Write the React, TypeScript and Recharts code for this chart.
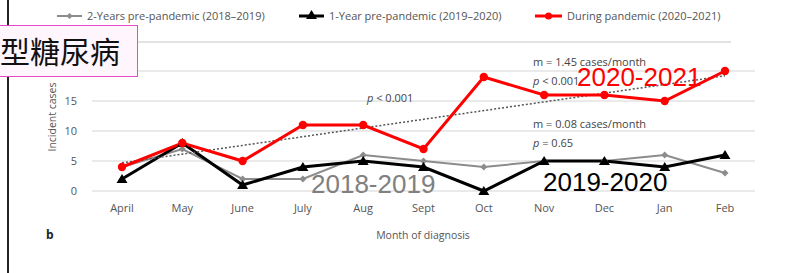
import { LineChart, Line, XAxis, YAxis, CartesianGrid } from "recharts";

const months = ["April", "May", "June", "July", "Aug", "Sept", "Oct", "Nov", "Dec", "Jan", "Feb"];
const cases1819 = [4, 7, 2, 2, 6, 5, 4, 5, 5, 6, 3];
const cases1920 = [2, 8, 1, 4, 5, 4, 0, 5, 5, 4, 6];
const cases2021 = [4, 8, 5, 11, 11, 7, 19, 16, 16, 15, 20];
// fitted trend for 2020-2021, only the two ends
const trend2021 = [4.7, null, null, null, null, null, null, null, null, null, 19.2];
const yTicks = [0, 5, 10, 15, 20];

const data = months.map((m, i) => ({
  month: m,
  a: cases1819[i],
  b: cases1920[i],
  c: cases2021[i],
  t: trend2021[i],
}));

const C = {
  red: "#ff0000",
  black: "#000000",
  gray: "#8c8c8c",
  grid: "#e3e3e3",
  text: "#555555",
  font: "'Open Sans', 'Noto Sans', sans-serif",
  big: "'Liberation Sans', Arial, sans-serif",
};

function Diamond({ cx, cy, stroke, s = 3.5 }: any) {
  if (cx == null || cy == null) return null;
  return <polygon points={`${cx},${cy - s} ${cx + s},${cy} ${cx},${cy + s} ${cx - s},${cy}`} fill={stroke} />;
}

function Triangle({ cx, cy, stroke }: any) {
  if (cx == null || cy == null) return null;
  return <polygon points={`${cx},${cy - 5} ${cx + 5.5},${cy + 4} ${cx - 5.5},${cy + 4}`} fill={stroke} />;
}

function Dot({ cx, cy, stroke }: any) {
  if (cx == null || cy == null) return null;
  return <circle cx={cx} cy={cy} r={4.2} fill={stroke} />;
}

const abs = (left: number, top: number, extra: any = {}) => ({
  position: "absolute" as const, left, top, whiteSpace: "nowrap" as const, ...extra,
});

function LegendItem({ x, color, width, marker, label }: any) {
  return (
    <div style={abs(x, 8, { display: "flex", alignItems: "center", fontFamily: C.font, fontSize: 11, color: C.text })}>
      <svg width={width} height={14}>
        <line x1={0} x2={width} y1={7} y2={7} stroke={color} strokeWidth={color === C.gray ? 2 : 3} />
        {marker === "d" && <Diamond cx={width / 2} cy={7} stroke={color} s={3} />}
        {marker === "t" && <Triangle cx={width / 2} cy={6} stroke={color} />}
        {marker === "c" && <circle cx={width / 2} cy={7} r={3.5} fill={color} />}
      </svg>
      <span style={{ marginLeft: 5 }}>{label}</span>
    </div>
  );
}

const note = (left: number, top: number) => abs(left, top, { fontFamily: C.font, fontSize: 11, color: "#444", lineHeight: "14px" });

export default function App() {
  return (
    <div style={{ position: "absolute", left: 0, top: 0, width: 785, height: 273, background: "#fff", overflow: "hidden" }}>
      <div style={{ position: "absolute", left: 7, top: 0, width: 1.5, height: 273, background: "#222" }} />
      <div style={{ position: "absolute", left: 8, top: 41, width: 723, height: 1.5, background: C.grid }} />

      <LineChart width={785} height={273} data={data} margin={{ top: 71, right: 30, left: 62, bottom: 52 }}
        style={{ position: "absolute", left: 0, top: 0 }}>
        <CartesianGrid vertical={false} stroke={C.grid} strokeWidth={1.5} />
        <XAxis dataKey="month" axisLine={false} tickLine={false} tickMargin={7} padding={{ left: 30, right: 30 }}
          tick={{ fontFamily: C.font, fontSize: 11, fill: C.text }} interval={0} />
        <YAxis width={30} domain={[0, 20]} ticks={yTicks} axisLine={false} tickLine={false} tickMargin={9}
          tick={{ fontFamily: C.font, fontSize: 11, fill: C.text }} />
        <Line dataKey="a" stroke={C.gray} strokeWidth={2} dot={<Diamond />} activeDot={false} isAnimationActive={false} />
        <Line dataKey="b" stroke={C.black} strokeWidth={3} dot={<Triangle />} activeDot={false} isAnimationActive={false} />
        <Line dataKey="t" stroke="#555" strokeWidth={1.5} strokeDasharray="2 2" dot={false} activeDot={false}
          connectNulls isAnimationActive={false} />
        <Line dataKey="c" stroke={C.red} strokeWidth={3} dot={<Dot />} activeDot={false} isAnimationActive={false} />
      </LineChart>

      <LegendItem x={57} width={25} color={C.gray} marker="d" label="2-Years pre-pandemic (2018–2019)" />
      <LegendItem x={299} width={25} color={C.black} marker="t" label="1-Year pre-pandemic (2019–2020)" />
      <LegendItem x={535} width={27} color={C.red} marker="c" label="During pandemic (2020–2021)" />

      <div style={abs(52, 117, { fontFamily: C.font, fontSize: 10.5, color: C.text, lineHeight: "14px",
        transform: "translate(-50%, -50%) rotate(-90deg)" })}>
        Incident cases
      </div>
      <div style={abs(46, 226, { fontFamily: C.font, fontSize: 12, fontWeight: 700, color: "#222" })}>b</div>
      <div style={abs(423, 228, { fontFamily: C.font, fontSize: 10.5, color: C.text, transform: "translateX(-50%)" })}>
        Month of diagnosis
      </div>

      <div style={note(367, 91)}><i>p</i> &lt; 0.001</div>
      <div style={note(533, 55)}>m = 1.45 cases/month</div>
      <div style={note(533, 74)}><i>p</i> &lt; 0.001</div>
      <div style={note(533, 117)}>m = 0.08 cases/month</div>
      <div style={note(533, 136)}><i>p</i> = 0.65</div>

      <div style={abs(577, 63, { fontFamily: C.big, fontSize: 26, lineHeight: "28px", color: C.red })}>2020-2021</div>
      <div style={abs(311, 170, { fontFamily: C.big, fontSize: 26, lineHeight: "28px", color: "#808080" })}>2018-2019</div>
      <div style={abs(543, 168, { fontFamily: C.big, fontSize: 26, lineHeight: "28px", color: C.black })}>2019-2020</div>

      <div style={{ position: "absolute", left: -10, top: 25, width: 146, height: 50, background: "#fff5fd",
        border: "1.5px solid #e44bc4", boxSizing: "content-box" }} />
      <div style={abs(0, 30, { fontFamily: "'Noto Sans CJK SC', sans-serif", fontSize: 30, lineHeight: "40px", color: "#111" })}>
        型糖尿病
      </div>
    </div>
  );
}
